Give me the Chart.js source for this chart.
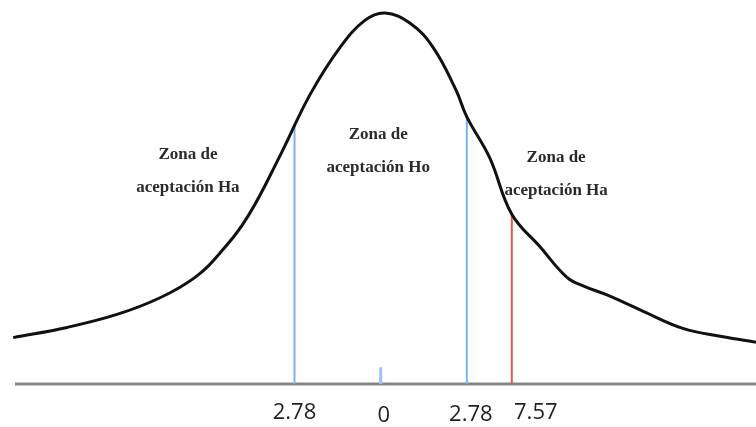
<!DOCTYPE html>
<html>
<head>
<meta charset="utf-8">
<script src="https://cdn.jsdelivr.net/npm/chart.js@4/dist/chart.umd.min.js"></script>
<style>
  html, body { margin: 0; padding: 0; background: #ffffff; }
  #wrap { width: 756px; height: 427px; }
</style>
</head>
<body>
<div id="wrap"><canvas id="c"></canvas></div>
<script>
// t distribution sketch: x in t units, y as density
const curveX = [-11.86, -10.12, -8.51, -7.12, -5.99, -5.19, -4.28, -3.25, -2.28, -1.31,
                -0.51, 0.14, 0.95, 1.69, 2.43, 2.78, 5.21, 7.57, 8.48, 9.35,
                9.93, 10.64, 11.71, 13.09, 14.39, 15.45];
const curveY = [0.050, 0.061, 0.075, 0.093, 0.115, 0.141, 0.181, 0.246, 0.312, 0.363,
                0.392, 0.400, 0.389, 0.363, 0.317, 0.288, 0.244, 0.183, 0.148, 0.115,
                0.105, 0.096, 0.080, 0.060, 0.051, 0.045];

// critical values (two-tailed) and the curve height where each line stops
const criticalValues = [-2.78, 2.78];
const criticalHeights = [0.280, 0.288];

// computed t statistic
const tStatistic = 7.57;
const tStatisticHeight = 0.183;

// centre mark
const centreValue = 0;
const centreMarkHeight = 0.018;

// axis labels under the base line
const tickValues = [-2.78, 0, 2.78, 7.57];
const tickLabels = ['2.78', '0', '2.78', '7.57'];

// zone captions
const zoneCaptions = [
  ['Zona de', 'aceptación Ha'],
  ['Zona de', 'aceptación Ho'],
  ['Zona de', 'aceptación Ha']
];

// ---- layout ----
const X_MIN = -11.8, X_MAX = 15.45, Y_MAX = 0.414;
// the stretch between the critical value and the statistic is drawn compressed
const SQUEEZE = { from: 2.78, to: 7.57, factor: 0.303 };
const zoneAnchors = [ { x: -6.22, y: 0.247 }, { x: -0.08, y: 0.2685 }, { x: 9.0, y: 0.2437 } ];
const zoneLineGap = 33;
const tickLabelNudge = [ { dx: 0, dy: 0 }, { dx: 3, dy: 3 }, { dx: 4, dy: 2 }, { dx: 24, dy: 0 } ];

// Linear scale with one compressed interval
class SqueezedScale extends Chart.LinearScale {
  _u(v) {
    const s = SQUEEZE;
    if (v <= s.from) return v;
    if (v <= s.to) return s.from + (v - s.from) * s.factor;
    return s.from + (s.to - s.from) * s.factor + (v - s.to);
  }
  _v(u) {
    const s = SQUEEZE;
    const uTo = s.from + (s.to - s.from) * s.factor;
    if (u <= s.from) return u;
    if (u <= uTo) return s.from + (u - s.from) / s.factor;
    return s.to + (u - uTo);
  }
  getPixelForValue(value) {
    if (value === null || value === undefined || isNaN(value)) return NaN;
    const a = this._u(this.min), b = this._u(this.max);
    return this.getPixelForDecimal((this._u(value) - a) / (b - a));
  }
  getValueForPixel(pixel) {
    const a = this._u(this.min), b = this._u(this.max);
    return this._v(a + this.getDecimalForPixel(pixel) * (b - a));
  }
}
SqueezedScale.id = 'squeezed';
SqueezedScale.defaults = Chart.LinearScale.defaults;
Chart.register(SqueezedScale);

const curvePoints = curveX.map((x, i) => ({ x, y: curveY[i] }));
const vertical = (x, h) => [{ x, y: 0 }, { x, y: h }];

const textPlugin = {
  id: 'sketchText',
  afterDatasetsDraw(chart) {
    const ctx = chart.ctx, xs = chart.scales.x, ys = chart.scales.y;
    ctx.save();
    // zone captions
    ctx.fillStyle = '#2b2b2b';
    ctx.font = 'bold 17px "Liberation Serif", "Times New Roman", serif';
    ctx.textAlign = 'center';
    ctx.textBaseline = 'middle';
    zoneCaptions.forEach((lines, i) => {
      const px = xs.getPixelForValue(zoneAnchors[i].x);
      const py = ys.getPixelForValue(zoneAnchors[i].y);
      lines.forEach((t, j) => ctx.fillText(t, px, py + j * zoneLineGap));
    });
    // axis labels
    ctx.fillStyle = '#1f1f1f';
    ctx.font = '22px "Open Sans", "Liberation Sans", sans-serif';
    const base = ys.getPixelForValue(0);
    tickValues.forEach((v, i) => {
      const px = xs.getPixelForValue(v) + tickLabelNudge[i].dx;
      ctx.fillText(tickLabels[i], px, base + 29 + tickLabelNudge[i].dy);
    });
    ctx.restore();
  }
};

new Chart(document.getElementById('c'), {
  type: 'line',
  data: {
    datasets: [
      { data: curvePoints, borderColor: '#111111', borderWidth: 3, tension: 0.4, clip: false },
      { data: vertical(tStatistic, tStatisticHeight), borderColor: '#e05656', borderWidth: 2, clip: false },
      { data: vertical(criticalValues[0], criticalHeights[0]), borderColor: '#80b0e6', borderWidth: 2, clip: false },
      { data: vertical(criticalValues[1], criticalHeights[1]), borderColor: '#80b0e6', borderWidth: 2, clip: false },
      { data: vertical(centreValue, centreMarkHeight), borderColor: '#9cc2ee', borderWidth: 3, clip: false },
      { data: [{ x: X_MIN, y: 0 }, { x: X_MAX, y: 0 }], borderColor: '#858585', borderWidth: 3, clip: false }
    ]
  },
  options: {
    responsive: true,
    maintainAspectRatio: false,
    animation: false,
    layout: { padding: { left: 15, right: 0, top: 0, bottom: 43 } },
    elements: { point: { radius: 0, hoverRadius: 0 }, line: { tension: 0, borderCapStyle: 'butt' } },
    plugins: { legend: { display: false }, tooltip: { enabled: false } },
    scales: {
      x: { type: 'squeezed', min: X_MIN, max: X_MAX, display: false },
      y: { type: 'linear', min: 0, max: Y_MAX, display: false }
    }
  },
  plugins: [textPlugin]
});
</script>
</body>
</html>
